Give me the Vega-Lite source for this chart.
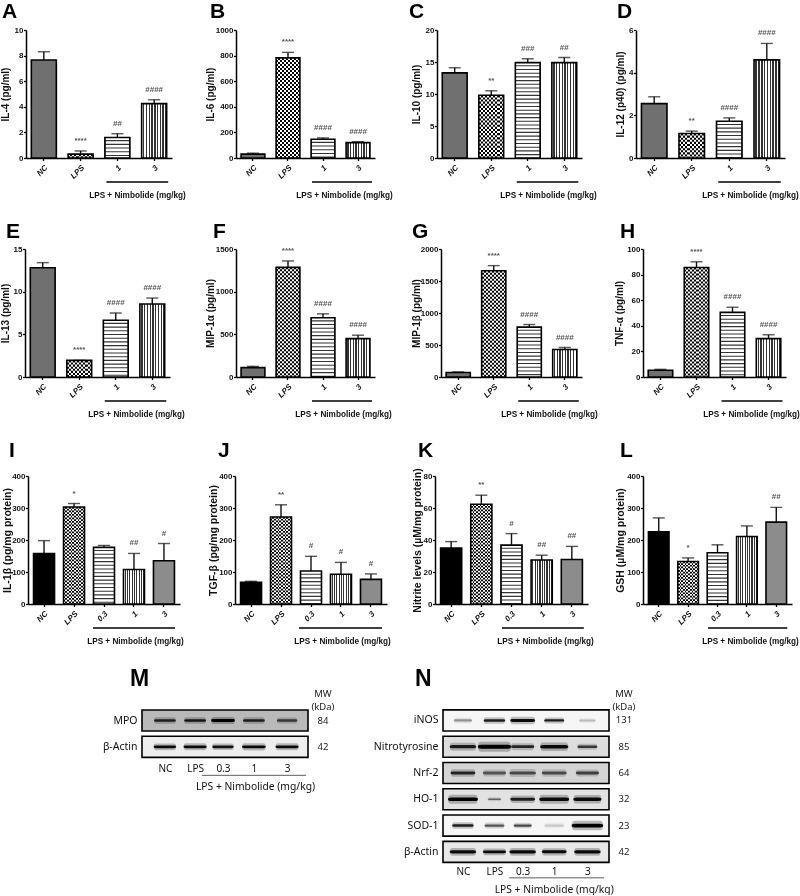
{"$schema":"https://vega.github.io/schema/vega-lite/v6.json","background":"white","padding":{"left":0,"top":1,"right":0,"bottom":0},"spacing":0,
"params":[
{"name":"vstripe","value":{"gradient":"linear","x1":0,"y1":0,"x2":1,"y2":0,"stops":[{"offset":0,"color":"#fff"},{"offset":0.0556,"color":"#fff"},{"offset":0.0556,"color":"#333"},{"offset":0.1111,"color":"#333"},{"offset":0.1111,"color":"#fff"},{"offset":0.1667,"color":"#fff"},{"offset":0.1667,"color":"#333"},{"offset":0.2222,"color":"#333"},{"offset":0.2222,"color":"#fff"},{"offset":0.2778,"color":"#fff"},{"offset":0.2778,"color":"#333"},{"offset":0.3333,"color":"#333"},{"offset":0.3333,"color":"#fff"},{"offset":0.3889,"color":"#fff"},{"offset":0.3889,"color":"#333"},{"offset":0.4444,"color":"#333"},{"offset":0.4444,"color":"#fff"},{"offset":0.5,"color":"#fff"},{"offset":0.5,"color":"#333"},{"offset":0.5556,"color":"#333"},{"offset":0.5556,"color":"#fff"},{"offset":0.6111,"color":"#fff"},{"offset":0.6111,"color":"#333"},{"offset":0.6667,"color":"#333"},{"offset":0.6667,"color":"#fff"},{"offset":0.7222,"color":"#fff"},{"offset":0.7222,"color":"#333"},{"offset":0.7778,"color":"#333"},{"offset":0.7778,"color":"#fff"},{"offset":0.8333,"color":"#fff"},{"offset":0.8333,"color":"#333"},{"offset":0.8889,"color":"#333"},{"offset":0.8889,"color":"#fff"},{"offset":0.9444,"color":"#fff"},{"offset":0.9444,"color":"#333"},{"offset":1,"color":"#333"}]}},
{"name":"vcheck","value":{"gradient":"linear","x1":0,"y1":0,"x2":1,"y2":0,"stops":[{"offset":0,"color":"#000"},{"offset":0.0833,"color":"#000"},{"offset":0.0833,"color":"#fff"},{"offset":0.1667,"color":"#fff"},{"offset":0.1667,"color":"#000"},{"offset":0.25,"color":"#000"},{"offset":0.25,"color":"#fff"},{"offset":0.3333,"color":"#fff"},{"offset":0.3333,"color":"#000"},{"offset":0.4167,"color":"#000"},{"offset":0.4167,"color":"#fff"},{"offset":0.5,"color":"#fff"},{"offset":0.5,"color":"#000"},{"offset":0.5833,"color":"#000"},{"offset":0.5833,"color":"#fff"},{"offset":0.6667,"color":"#fff"},{"offset":0.6667,"color":"#000"},{"offset":0.75,"color":"#000"},{"offset":0.75,"color":"#fff"},{"offset":0.8333,"color":"#fff"},{"offset":0.8333,"color":"#000"},{"offset":0.9167,"color":"#000"},{"offset":0.9167,"color":"#fff"},{"offset":1,"color":"#fff"}]}}
],
"config":{"view":{"stroke":null},"font":"Liberation Sans",
"title":{"font":"Liberation Sans","fontWeight":"bold","fontSize":21,"anchor":"start","frame":"group","color":"#000"},
"axis":{"grid":false,"labelFont":"Liberation Sans","labelFontWeight":"bold","labelFontSize":8,"labelColor":"#111","titleFont":"Liberation Sans","titleFontWeight":"bold","titleFontSize":10,"titleColor":"#111","domainColor":"#000","domainWidth":1.5,"tickColor":"#000","tickWidth":1.3,"tickSize":2.5,"labelPadding":0.5,"titleBaseline":"middle"},
"axisX":{"labelAngle":-45,"labelFontStyle":"italic","titleAlign":"center","titleFontSize":8.2,"labelPadding":3}
},
"datasets":{
"A":[{"group":"NC","value":7.66,"upper":8.3,"sig":""},{"group":"LPS","value":0.3,"upper":0.55,"sig":"****"},{"group":"1","value":1.6,"upper":1.9,"sig":"##"},{"group":"3","value":4.25,"upper":4.55,"sig":"####"}],
"B":[{"group":"NC","value":30,"upper":38,"sig":""},{"group":"LPS","value":782,"upper":825,"sig":"****"},{"group":"1","value":147,"upper":157,"sig":"####"},{"group":"3","value":120,"upper":127,"sig":"####"}],
"C":[{"group":"NC","value":13.3,"upper":14.1,"sig":""},{"group":"LPS","value":9.8,"upper":10.5,"sig":"**"},{"group":"1","value":14.9,"upper":15.5,"sig":"###"},{"group":"3","value":14.9,"upper":15.7,"sig":"##"}],
"D":[{"group":"NC","value":2.55,"upper":2.87,"sig":""},{"group":"LPS","value":1.15,"upper":1.26,"sig":"**"},{"group":"1","value":1.72,"upper":1.88,"sig":"####"},{"group":"3","value":4.6,"upper":5.37,"sig":"####"}],
"E":[{"group":"NC","value":12.8,"upper":13.4,"sig":""},{"group":"LPS","value":1.95,"upper":1.95,"sig":"****"},{"group":"1","value":6.65,"upper":7.5,"sig":"####"},{"group":"3","value":8.55,"upper":9.25,"sig":"####"}],
"F":[{"group":"NC","value":110,"upper":125,"sig":""},{"group":"LPS","value":1285,"upper":1360,"sig":"****"},{"group":"1","value":695,"upper":740,"sig":"####"},{"group":"3","value":450,"upper":490,"sig":"####"}],
"G":[{"group":"NC","value":70,"upper":80,"sig":""},{"group":"LPS","value":1660,"upper":1740,"sig":"****"},{"group":"1","value":780,"upper":820,"sig":"####"},{"group":"3","value":430,"upper":460,"sig":"####"}],
"H":[{"group":"NC","value":5.3,"upper":6,"sig":""},{"group":"LPS","value":85.5,"upper":90,"sig":"****"},{"group":"1","value":50.5,"upper":54.5,"sig":"####"},{"group":"3","value":30,"upper":33,"sig":"####"}],
"I":[{"group":"NC","value":158,"upper":198,"sig":""},{"group":"LPS","value":303,"upper":314,"sig":"*"},{"group":"0.3","value":177,"upper":183,"sig":""},{"group":"1","value":108,"upper":158,"sig":"##"},{"group":"3","value":135,"upper":189,"sig":"#"}],
"J":[{"group":"NC","value":68,"upper":71,"sig":""},{"group":"LPS","value":272,"upper":310,"sig":"**"},{"group":"0.3","value":103,"upper":149,"sig":"#"},{"group":"1","value":93,"upper":130,"sig":"#"},{"group":"3","value":77,"upper":94,"sig":"#"}],
"K":[{"group":"NC","value":35,"upper":39,"sig":""},{"group":"LPS","value":62.3,"upper":68,"sig":"**"},{"group":"0.3","value":36.8,"upper":44,"sig":"#"},{"group":"1","value":27.5,"upper":30.5,"sig":"##"},{"group":"3","value":27.8,"upper":36,"sig":"##"}],
"L":[{"group":"NC","value":226,"upper":269,"sig":""},{"group":"LPS","value":133,"upper":144,"sig":"*"},{"group":"0.3","value":160,"upper":185,"sig":""},{"group":"1","value":211,"upper":244,"sig":""},{"group":"3","value":256,"upper":302,"sig":"##"}],
"Mrows":[{"blot":"head","mw":["MW","(kDa)"],"bg":0},{"blot":"MPO","mw":"84","bg":0.25},{"blot":"β-Actin","mw":"42","bg":0.06}],
"Mbands":[{"blot":"MPO","lane":1.19,"level":0.8,"spread":0.66},{"blot":"MPO","lane":2.1,"level":0.85,"spread":0.66},{"blot":"MPO","lane":2.94,"level":1,"spread":0.72},{"blot":"MPO","lane":3.87,"level":0.8,"spread":0.66},{"blot":"MPO","lane":4.87,"level":0.65,"spread":0.62},{"blot":"β-Actin","lane":1.19,"level":0.95,"spread":0.68},{"blot":"β-Actin","lane":2.1,"level":0.95,"spread":0.7},{"blot":"β-Actin","lane":2.94,"level":0.9,"spread":0.65},{"blot":"β-Actin","lane":3.87,"level":0.95,"spread":0.72},{"blot":"β-Actin","lane":4.87,"level":0.95,"spread":0.7}],
"Nrows":[{"blot":"head","mw":["MW","(kDa)"],"bg":0},{"blot":"iNOS","mw":"131","bg":0.03},{"blot":"Nitrotyrosine","mw":"85","bg":0.12},{"blot":"Nrf-2","mw":"64","bg":0.15},{"blot":"HO-1","mw":"32","bg":0.1},{"blot":"SOD-1","mw":"23","bg":0.03},{"blot":"β-Actin","mw":"42","bg":0.08}],
"Nbands":[{"blot":"iNOS","lane":1.1,"level":0.35,"spread":0.55},{"blot":"iNOS","lane":2.05,"level":0.85,"spread":0.65},{"blot":"iNOS","lane":2.9,"level":0.95,"spread":0.75},{"blot":"iNOS","lane":3.85,"level":0.85,"spread":0.6},{"blot":"iNOS","lane":4.85,"level":0.2,"spread":0.5},
{"blot":"Nitrotyrosine","lane":1.1,"level":0.85,"spread":0.8},{"blot":"Nitrotyrosine","lane":2.05,"level":1,"spread":1},{"blot":"Nitrotyrosine","lane":2.9,"level":0.8,"spread":0.7},{"blot":"Nitrotyrosine","lane":3.85,"level":0.95,"spread":0.85},{"blot":"Nitrotyrosine","lane":4.85,"level":0.7,"spread":0.6},
{"blot":"Nrf-2","lane":1.1,"level":0.8,"spread":0.75},{"blot":"Nrf-2","lane":2.05,"level":0.55,"spread":0.7},{"blot":"Nrf-2","lane":2.9,"level":0.6,"spread":0.8},{"blot":"Nrf-2","lane":3.85,"level":0.6,"spread":0.75},{"blot":"Nrf-2","lane":4.85,"level":0.65,"spread":0.7},
{"blot":"HO-1","lane":1.1,"level":1,"spread":0.9},{"blot":"HO-1","lane":2.05,"level":0.5,"spread":0.4},{"blot":"HO-1","lane":2.9,"level":0.85,"spread":0.75},{"blot":"HO-1","lane":3.85,"level":0.95,"spread":0.9},{"blot":"HO-1","lane":4.85,"level":0.95,"spread":0.85},
{"blot":"SOD-1","lane":1.1,"level":0.85,"spread":0.65},{"blot":"SOD-1","lane":2.05,"level":0.6,"spread":0.6},{"blot":"SOD-1","lane":2.9,"level":0.65,"spread":0.55},{"blot":"SOD-1","lane":3.85,"level":0.15,"spread":0.6},{"blot":"SOD-1","lane":4.85,"level":1,"spread":0.95},
{"blot":"β-Actin","lane":1.1,"level":0.95,"spread":0.8},{"blot":"β-Actin","lane":2.05,"level":0.95,"spread":0.7},{"blot":"β-Actin","lane":2.9,"level":0.95,"spread":0.8},{"blot":"β-Actin","lane":3.85,"level":0.95,"spread":0.75},{"blot":"β-Actin","lane":4.85,"level":0.95,"spread":0.8}]
},
"vconcat":[
{"hconcat":[
{"width":159,"height":128,"title":{"text":"A","dx":-25,"offset":4},"data":{"name":"A"},"encoding":{"x":{"field":"group","type":"nominal","sort":null,"scale":{"domain":["NC","LPS","1","3"],"range":[-1,145],"paddingInner":0.32,"paddingOuter":0.145},"axis":{"title":"LPS + Nimbolide (mg/kg)","titleX":110,"titleY":37,"minExtent":63,"maxExtent":63}},"y":{"field":"value","type":"quantitative","scale":{"domain":[0,10]},"axis":{"values":[0,2,4,6,8,10],"title":"IL-4 (pg/ml)","titleX":-21,"offset":1,"minExtent":23,"maxExtent":23}}},
"layer":[
{"mark":{"type":"rule","strokeWidth":1.4,"color":"#111"},"encoding":{"y":{"field":"upper","type":"quantitative"},"y2":{"field":"value"}}},
{"mark":{"type":"tick","size":12,"thickness":1.4,"color":"#111"},"encoding":{"y":{"field":"upper","type":"quantitative"}}},
{"mark":{"type":"bar"},"encoding":{"color":{"field":"group","type":"nominal","scale":{"domain":["NC","LPS","1","3"],"range":["#707070","#ffffff","#333333","#ffffff"]},"legend":null}}},
{"transform":[{"filter":"datum.group=='3'"}],"mark":{"type":"bar","fill":{"expr":"vstripe"}}},
{"transform":[{"filter":"datum.group=='LPS'"}],"mark":{"type":"bar","fill":{"expr":"vcheck"}}},
{"transform":[{"filter":"datum.group=='LPS'"}],"mark":{"type":"rule","color":"#fff","strokeWidth":25,"strokeDash":[2.1,2.1],"blend":"difference"},"encoding":{"y2":{"datum":0}}},
{"transform":[{"filter":"datum.group=='1'"}],"mark":{"type":"rule","color":"#fff","strokeWidth":24,"strokeDash":[2.6,1.1]},"encoding":{"y2":{"datum":0}}},
{"mark":{"type":"bar","fill":null,"stroke":"#000","strokeWidth":1.6}},
{"mark":{"type":"text","dy":-10,"fontSize":8,"fontWeight":"bold","color":"#555"},"encoding":{"y":{"field":"upper","type":"quantitative"},"text":{"field":"sig"}}},
{"transform":[{"filter":"datum.group=='1'"}],"mark":{"type":"rule","strokeWidth":1.6,"color":"#000","yOffset":24,"xOffset":-11,"x2Offset":14},"encoding":{"x":{"datum":"1"},"x2":{"datum":"3"},"y":{"datum":0}}}
]},
{"width":151,"height":128,"title":{"text":"B","dx":-26,"offset":4},"data":{"name":"B"},"encoding":{"x":{"field":"group","type":"nominal","sort":null,"scale":{"domain":["NC","LPS","1","3"],"range":[0,139],"paddingInner":0.32,"paddingOuter":0.145},"axis":{"title":"LPS + Nimbolide (mg/kg)","titleX":108,"titleY":37}},"y":{"field":"value","type":"quantitative","scale":{"domain":[0,1000]},"axis":{"values":[0,200,400,600,800,1000],"format":"d","title":"IL-6 (pg/ml)","titleX":-26}}},
"layer":[
{"mark":{"type":"rule","strokeWidth":1.4,"color":"#111"},"encoding":{"y":{"field":"upper","type":"quantitative"},"y2":{"field":"value"}}},
{"mark":{"type":"tick","size":12,"thickness":1.4,"color":"#111"},"encoding":{"y":{"field":"upper","type":"quantitative"}}},
{"mark":{"type":"bar"},"encoding":{"color":{"field":"group","type":"nominal","scale":{"domain":["NC","LPS","1","3"],"range":["#707070","#ffffff","#333333","#ffffff"]},"legend":null}}},
{"transform":[{"filter":"datum.group=='3'"}],"mark":{"type":"bar","fill":{"expr":"vstripe"}}},
{"transform":[{"filter":"datum.group=='LPS'"}],"mark":{"type":"bar","fill":{"expr":"vcheck"}}},
{"transform":[{"filter":"datum.group=='LPS'"}],"mark":{"type":"rule","color":"#fff","strokeWidth":23.8,"strokeDash":[2,2],"blend":"difference"},"encoding":{"y2":{"datum":0}}},
{"transform":[{"filter":"datum.group=='1'"}],"mark":{"type":"rule","color":"#fff","strokeWidth":23,"strokeDash":[2.6,1.1]},"encoding":{"y2":{"datum":0}}},
{"mark":{"type":"bar","fill":null,"stroke":"#000","strokeWidth":1.6}},
{"mark":{"type":"text","dy":-10,"fontSize":8,"fontWeight":"bold","color":"#555"},"encoding":{"y":{"field":"upper","type":"quantitative"},"text":{"field":"sig"}}},
{"transform":[{"filter":"datum.group=='1'"}],"mark":{"type":"rule","strokeWidth":1.6,"color":"#000","yOffset":24,"xOffset":-11,"x2Offset":14},"encoding":{"x":{"datum":"1"},"x2":{"datum":"3"},"y":{"datum":0}}}
]},
{"width":149,"height":128,"title":{"text":"C","dx":-28,"offset":4},"data":{"name":"C"},"encoding":{"x":{"field":"group","type":"nominal","sort":null,"scale":{"domain":["NC","LPS","1","3"],"range":[0,145],"paddingInner":0.32,"paddingOuter":0.145},"axis":{"title":"LPS + Nimbolide (mg/kg)","titleX":111,"titleY":37}},"y":{"field":"value","type":"quantitative","scale":{"domain":[0,20]},"axis":{"values":[0,5,10,15,20],"title":"IL-10 (pg/ml)","titleX":-21}}},
"layer":[
{"mark":{"type":"rule","strokeWidth":1.4,"color":"#111"},"encoding":{"y":{"field":"upper","type":"quantitative"},"y2":{"field":"value"}}},
{"mark":{"type":"tick","size":12,"thickness":1.4,"color":"#111"},"encoding":{"y":{"field":"upper","type":"quantitative"}}},
{"mark":{"type":"bar"},"encoding":{"color":{"field":"group","type":"nominal","scale":{"domain":["NC","LPS","1","3"],"range":["#707070","#ffffff","#333333","#ffffff"]},"legend":null}}},
{"transform":[{"filter":"datum.group=='3'"}],"mark":{"type":"bar","fill":{"expr":"vstripe"}}},
{"transform":[{"filter":"datum.group=='LPS'"}],"mark":{"type":"bar","fill":{"expr":"vcheck"}}},
{"transform":[{"filter":"datum.group=='LPS'"}],"mark":{"type":"rule","color":"#fff","strokeWidth":24.8,"strokeDash":[2.1,2.1],"blend":"difference"},"encoding":{"y2":{"datum":0}}},
{"transform":[{"filter":"datum.group=='1'"}],"mark":{"type":"rule","color":"#fff","strokeWidth":24,"strokeDash":[2.6,1.1]},"encoding":{"y2":{"datum":0}}},
{"mark":{"type":"bar","fill":null,"stroke":"#000","strokeWidth":1.6}},
{"mark":{"type":"text","dy":-10,"fontSize":8,"fontWeight":"bold","color":"#555"},"encoding":{"y":{"field":"upper","type":"quantitative"},"text":{"field":"sig"}}},
{"transform":[{"filter":"datum.group=='1'"}],"mark":{"type":"rule","strokeWidth":1.6,"color":"#000","yOffset":24,"xOffset":-11,"x2Offset":14},"encoding":{"x":{"datum":"1"},"x2":{"datum":"3"},"y":{"datum":0}}}
]},
{"width":149,"height":128,"title":{"text":"D","dx":-19,"offset":4},"data":{"name":"D"},"encoding":{"x":{"field":"group","type":"nominal","sort":null,"scale":{"domain":["NC","LPS","1","3"],"range":[0,149],"paddingInner":0.32,"paddingOuter":0.145},"axis":{"title":"LPS + Nimbolide (mg/kg)","titleX":114,"titleY":37}},"y":{"field":"value","type":"quantitative","scale":{"domain":[0,6]},"axis":{"values":[0,2,4,6],"title":"IL-12 (p40) (pg/ml)","titleX":-16}}},
"layer":[
{"mark":{"type":"rule","strokeWidth":1.4,"color":"#111"},"encoding":{"y":{"field":"upper","type":"quantitative"},"y2":{"field":"value"}}},
{"mark":{"type":"tick","size":12,"thickness":1.4,"color":"#111"},"encoding":{"y":{"field":"upper","type":"quantitative"}}},
{"mark":{"type":"bar"},"encoding":{"color":{"field":"group","type":"nominal","scale":{"domain":["NC","LPS","1","3"],"range":["#707070","#ffffff","#333333","#ffffff"]},"legend":null}}},
{"transform":[{"filter":"datum.group=='3'"}],"mark":{"type":"bar","fill":{"expr":"vstripe"}}},
{"transform":[{"filter":"datum.group=='LPS'"}],"mark":{"type":"bar","fill":{"expr":"vcheck"}}},
{"transform":[{"filter":"datum.group=='LPS'"}],"mark":{"type":"rule","color":"#fff","strokeWidth":25.5,"strokeDash":[2.1,2.1],"blend":"difference"},"encoding":{"y2":{"datum":0}}},
{"transform":[{"filter":"datum.group=='1'"}],"mark":{"type":"rule","color":"#fff","strokeWidth":24.5,"strokeDash":[2.6,1.1]},"encoding":{"y2":{"datum":0}}},
{"mark":{"type":"bar","fill":null,"stroke":"#000","strokeWidth":1.6}},
{"mark":{"type":"text","dy":-10,"fontSize":8,"fontWeight":"bold","color":"#555"},"encoding":{"y":{"field":"upper","type":"quantitative"},"text":{"field":"sig"}}},
{"transform":[{"filter":"datum.group=='1'"}],"mark":{"type":"rule","strokeWidth":1.6,"color":"#000","yOffset":24,"xOffset":-11,"x2Offset":14},"encoding":{"x":{"datum":"1"},"x2":{"datum":"3"},"y":{"datum":0}}}
]}
],"spacing":50,"bounds":"flush"},
{"hconcat":[
{"width":159,"height":128,"title":{"text":"E","dx":-21,"offset":3},"data":{"name":"E"},"encoding":{"x":{"field":"group","type":"nominal","sort":null,"scale":{"domain":["NC","LPS","1","3"],"range":[-2,143],"paddingInner":0.32,"paddingOuter":0.145},"axis":{"title":"LPS + Nimbolide (mg/kg)","titleX":109,"titleY":37,"minExtent":63,"maxExtent":63}},"y":{"field":"value","type":"quantitative","scale":{"domain":[0,15]},"axis":{"values":[0,5,10,15],"title":"IL-13 (pg/ml)","titleX":-20,"offset":2,"minExtent":21,"maxExtent":21}}},
"layer":[
{"mark":{"type":"rule","strokeWidth":1.4,"color":"#111"},"encoding":{"y":{"field":"upper","type":"quantitative"},"y2":{"field":"value"}}},
{"mark":{"type":"tick","size":12,"thickness":1.4,"color":"#111"},"encoding":{"y":{"field":"upper","type":"quantitative"}}},
{"mark":{"type":"bar"},"encoding":{"color":{"field":"group","type":"nominal","scale":{"domain":["NC","LPS","1","3"],"range":["#707070","#ffffff","#333333","#ffffff"]},"legend":null}}},
{"transform":[{"filter":"datum.group=='3'"}],"mark":{"type":"bar","fill":{"expr":"vstripe"}}},
{"transform":[{"filter":"datum.group=='LPS'"}],"mark":{"type":"bar","fill":{"expr":"vcheck"}}},
{"transform":[{"filter":"datum.group=='LPS'"}],"mark":{"type":"rule","color":"#fff","strokeWidth":24.8,"strokeDash":[2.1,2.1],"blend":"difference"},"encoding":{"y2":{"datum":0}}},
{"transform":[{"filter":"datum.group=='1'"}],"mark":{"type":"rule","color":"#fff","strokeWidth":24,"strokeDash":[2.6,1.1]},"encoding":{"y2":{"datum":0}}},
{"mark":{"type":"bar","fill":null,"stroke":"#000","strokeWidth":1.6}},
{"mark":{"type":"text","dy":-10,"fontSize":8,"fontWeight":"bold","color":"#555"},"encoding":{"y":{"field":"upper","type":"quantitative"},"text":{"field":"sig"}}},
{"transform":[{"filter":"datum.group=='1'"}],"mark":{"type":"rule","strokeWidth":1.6,"color":"#000","yOffset":24,"xOffset":-11,"x2Offset":14},"encoding":{"x":{"datum":"1"},"x2":{"datum":"3"},"y":{"datum":0}}}
]},
{"width":155,"height":128,"title":{"text":"F","dx":-23,"offset":3},"data":{"name":"F"},"encoding":{"x":{"field":"group","type":"nominal","sort":null,"scale":{"domain":["NC","LPS","1","3"],"range":[0,139],"paddingInner":0.32,"paddingOuter":0.145},"axis":{"title":"LPS + Nimbolide (mg/kg)","titleX":107,"titleY":37}},"y":{"field":"value","type":"quantitative","scale":{"domain":[0,1500]},"axis":{"values":[0,500,1000,1500],"format":"d","title":"MIP-1α (pg/ml)","titleX":-26}}},
"layer":[
{"mark":{"type":"rule","strokeWidth":1.4,"color":"#111"},"encoding":{"y":{"field":"upper","type":"quantitative"},"y2":{"field":"value"}}},
{"mark":{"type":"tick","size":12,"thickness":1.4,"color":"#111"},"encoding":{"y":{"field":"upper","type":"quantitative"}}},
{"mark":{"type":"bar"},"encoding":{"color":{"field":"group","type":"nominal","scale":{"domain":["NC","LPS","1","3"],"range":["#707070","#ffffff","#333333","#ffffff"]},"legend":null}}},
{"transform":[{"filter":"datum.group=='3'"}],"mark":{"type":"bar","fill":{"expr":"vstripe"}}},
{"transform":[{"filter":"datum.group=='LPS'"}],"mark":{"type":"bar","fill":{"expr":"vcheck"}}},
{"transform":[{"filter":"datum.group=='LPS'"}],"mark":{"type":"rule","color":"#fff","strokeWidth":23.8,"strokeDash":[2,2],"blend":"difference"},"encoding":{"y2":{"datum":0}}},
{"transform":[{"filter":"datum.group=='1'"}],"mark":{"type":"rule","color":"#fff","strokeWidth":23,"strokeDash":[2.6,1.1]},"encoding":{"y2":{"datum":0}}},
{"mark":{"type":"bar","fill":null,"stroke":"#000","strokeWidth":1.6}},
{"mark":{"type":"text","dy":-10,"fontSize":8,"fontWeight":"bold","color":"#555"},"encoding":{"y":{"field":"upper","type":"quantitative"},"text":{"field":"sig"}}},
{"transform":[{"filter":"datum.group=='1'"}],"mark":{"type":"rule","strokeWidth":1.6,"color":"#000","yOffset":24,"xOffset":-11,"x2Offset":14},"encoding":{"x":{"datum":"1"},"x2":{"datum":"3"},"y":{"datum":0}}}
]},
{"width":152,"height":128,"title":{"text":"G","dx":-29,"offset":3},"data":{"name":"G"},"encoding":{"x":{"field":"group","type":"nominal","sort":null,"scale":{"domain":["NC","LPS","1","3"],"range":[0,141],"paddingInner":0.32,"paddingOuter":0.145},"axis":{"title":"LPS + Nimbolide (mg/kg)","titleX":108,"titleY":37}},"y":{"field":"value","type":"quantitative","scale":{"domain":[0,2000]},"axis":{"values":[0,500,1000,1500,2000],"format":"d","title":"MIP-1β (pg/ml)","titleX":-25}}},
"layer":[
{"mark":{"type":"rule","strokeWidth":1.4,"color":"#111"},"encoding":{"y":{"field":"upper","type":"quantitative"},"y2":{"field":"value"}}},
{"mark":{"type":"tick","size":12,"thickness":1.4,"color":"#111"},"encoding":{"y":{"field":"upper","type":"quantitative"}}},
{"mark":{"type":"bar"},"encoding":{"color":{"field":"group","type":"nominal","scale":{"domain":["NC","LPS","1","3"],"range":["#707070","#ffffff","#333333","#ffffff"]},"legend":null}}},
{"transform":[{"filter":"datum.group=='3'"}],"mark":{"type":"bar","fill":{"expr":"vstripe"}}},
{"transform":[{"filter":"datum.group=='LPS'"}],"mark":{"type":"bar","fill":{"expr":"vcheck"}}},
{"transform":[{"filter":"datum.group=='LPS'"}],"mark":{"type":"rule","color":"#fff","strokeWidth":24.2,"strokeDash":[2,2],"blend":"difference"},"encoding":{"y2":{"datum":0}}},
{"transform":[{"filter":"datum.group=='1'"}],"mark":{"type":"rule","color":"#fff","strokeWidth":23.4,"strokeDash":[2.6,1.1]},"encoding":{"y2":{"datum":0}}},
{"mark":{"type":"bar","fill":null,"stroke":"#000","strokeWidth":1.6}},
{"mark":{"type":"text","dy":-10,"fontSize":8,"fontWeight":"bold","color":"#555"},"encoding":{"y":{"field":"upper","type":"quantitative"},"text":{"field":"sig"}}},
{"transform":[{"filter":"datum.group=='1'"}],"mark":{"type":"rule","strokeWidth":1.6,"color":"#000","yOffset":24,"xOffset":-11,"x2Offset":14},"encoding":{"x":{"datum":"1"},"x2":{"datum":"3"},"y":{"datum":0}}}
]},
{"width":150,"height":128,"title":{"text":"H","dx":-23,"offset":3},"data":{"name":"H"},"encoding":{"x":{"field":"group","type":"nominal","sort":null,"scale":{"domain":["NC","LPS","1","3"],"range":[0,143],"paddingInner":0.32,"paddingOuter":0.145},"axis":{"title":"LPS + Nimbolide (mg/kg)","titleX":108,"titleY":37}},"y":{"field":"value","type":"quantitative","scale":{"domain":[0,100]},"axis":{"values":[0,20,40,60,80,100],"title":"TNF-α (pg/ml)","titleX":-24}}},
"layer":[
{"mark":{"type":"rule","strokeWidth":1.4,"color":"#111"},"encoding":{"y":{"field":"upper","type":"quantitative"},"y2":{"field":"value"}}},
{"mark":{"type":"tick","size":12,"thickness":1.4,"color":"#111"},"encoding":{"y":{"field":"upper","type":"quantitative"}}},
{"mark":{"type":"bar"},"encoding":{"color":{"field":"group","type":"nominal","scale":{"domain":["NC","LPS","1","3"],"range":["#707070","#ffffff","#333333","#ffffff"]},"legend":null}}},
{"transform":[{"filter":"datum.group=='3'"}],"mark":{"type":"bar","fill":{"expr":"vstripe"}}},
{"transform":[{"filter":"datum.group=='LPS'"}],"mark":{"type":"bar","fill":{"expr":"vcheck"}}},
{"transform":[{"filter":"datum.group=='LPS'"}],"mark":{"type":"rule","color":"#fff","strokeWidth":24.5,"strokeDash":[2,2],"blend":"difference"},"encoding":{"y2":{"datum":0}}},
{"transform":[{"filter":"datum.group=='1'"}],"mark":{"type":"rule","color":"#fff","strokeWidth":23.6,"strokeDash":[2.6,1.1]},"encoding":{"y2":{"datum":0}}},
{"mark":{"type":"bar","fill":null,"stroke":"#000","strokeWidth":1.6}},
{"mark":{"type":"text","dy":-10,"fontSize":8,"fontWeight":"bold","color":"#555"},"encoding":{"y":{"field":"upper","type":"quantitative"},"text":{"field":"sig"}}},
{"transform":[{"filter":"datum.group=='1'"}],"mark":{"type":"rule","strokeWidth":1.6,"color":"#000","yOffset":24,"xOffset":-11,"x2Offset":14},"encoding":{"x":{"datum":"1"},"x2":{"datum":"3"},"y":{"datum":0}}}
]}
],"spacing":50,"bounds":"flush"},
{"hconcat":[
{"width":158,"height":128,"title":{"text":"I","dx":-18,"offset":11},"data":{"name":"I"},"encoding":{"x":{"field":"group","type":"nominal","sort":null,"scale":{"domain":["NC","LPS","0.3","1","3"],"range":[1,153],"paddingInner":0.3,"paddingOuter":0.185},"axis":{"title":"LPS + Nimbolide (mg/kg)","titleX":108,"titleY":37,"minExtent":63,"maxExtent":63}},"y":{"field":"value","type":"quantitative","scale":{"domain":[0,400]},"axis":{"values":[0,100,200,300,400],"title":"IL-1β (pg/mg protein)","titleFontSize":10.5,"titleX":-21,"offset":-1,"minExtent":26,"maxExtent":26}}},
"layer":[
{"mark":{"type":"rule","strokeWidth":1.4,"color":"#111"},"encoding":{"y":{"field":"upper","type":"quantitative"},"y2":{"field":"value"}}},
{"mark":{"type":"tick","size":12,"thickness":1.4,"color":"#111"},"encoding":{"y":{"field":"upper","type":"quantitative"}}},
{"mark":{"type":"bar"},"encoding":{"color":{"field":"group","type":"nominal","scale":{"domain":["NC","LPS","0.3","1","3"],"range":["#000000","#ffffff","#333333","#ffffff","#8c8c8c"]},"legend":null}}},
{"transform":[{"filter":"datum.group=='1'"}],"mark":{"type":"bar","fill":{"expr":"vstripe"}}},
{"transform":[{"filter":"datum.group=='LPS'"}],"mark":{"type":"bar","fill":{"expr":"vcheck"}}},
{"transform":[{"filter":"datum.group=='LPS'"}],"mark":{"type":"rule","color":"#fff","strokeWidth":21,"strokeDash":[1.75,1.75],"blend":"difference"},"encoding":{"y2":{"datum":0}}},
{"transform":[{"filter":"datum.group=='0.3'"}],"mark":{"type":"rule","color":"#fff","strokeWidth":20,"strokeDash":[2.6,1.1]},"encoding":{"y2":{"datum":0}}},
{"mark":{"type":"bar","fill":null,"stroke":"#000","strokeWidth":1.6}},
{"mark":{"type":"text","dy":-10,"fontSize":8,"fontWeight":"bold","color":"#555"},"encoding":{"y":{"field":"upper","type":"quantitative"},"text":{"field":"sig"}}},
{"transform":[{"filter":"datum.group=='1'"}],"mark":{"type":"rule","strokeWidth":1.6,"color":"#000","yOffset":24,"xOffset":-11,"x2Offset":11},"encoding":{"x":{"datum":"0.3"},"x2":{"datum":"3"},"y":{"datum":0}}}
]},
{"width":150,"height":128,"title":{"text":"J","dx":-17,"offset":11},"data":{"name":"J"},"encoding":{"x":{"field":"group","type":"nominal","sort":null,"scale":{"domain":["NC","LPS","0.3","1","3"],"range":[0,152],"paddingInner":0.3,"paddingOuter":0.185},"axis":{"title":"LPS + Nimbolide (mg/kg)","titleX":107,"titleY":37}},"y":{"field":"value","type":"quantitative","scale":{"domain":[0,400]},"axis":{"values":[0,100,200,300,400],"title":"TGF-β (pg/mg protein)","titleFontSize":10.5,"titleX":-22}}},
"layer":[
{"mark":{"type":"rule","strokeWidth":1.4,"color":"#111"},"encoding":{"y":{"field":"upper","type":"quantitative"},"y2":{"field":"value"}}},
{"mark":{"type":"tick","size":12,"thickness":1.4,"color":"#111"},"encoding":{"y":{"field":"upper","type":"quantitative"}}},
{"mark":{"type":"bar"},"encoding":{"color":{"field":"group","type":"nominal","scale":{"domain":["NC","LPS","0.3","1","3"],"range":["#000000","#ffffff","#333333","#ffffff","#8c8c8c"]},"legend":null}}},
{"transform":[{"filter":"datum.group=='1'"}],"mark":{"type":"bar","fill":{"expr":"vstripe"}}},
{"transform":[{"filter":"datum.group=='LPS'"}],"mark":{"type":"bar","fill":{"expr":"vcheck"}}},
{"transform":[{"filter":"datum.group=='LPS'"}],"mark":{"type":"rule","color":"#fff","strokeWidth":21,"strokeDash":[1.75,1.75],"blend":"difference"},"encoding":{"y2":{"datum":0}}},
{"transform":[{"filter":"datum.group=='0.3'"}],"mark":{"type":"rule","color":"#fff","strokeWidth":20,"strokeDash":[2.6,1.1]},"encoding":{"y2":{"datum":0}}},
{"mark":{"type":"bar","fill":null,"stroke":"#000","strokeWidth":1.6}},
{"mark":{"type":"text","dy":-10,"fontSize":8,"fontWeight":"bold","color":"#555"},"encoding":{"y":{"field":"upper","type":"quantitative"},"text":{"field":"sig"}}},
{"transform":[{"filter":"datum.group=='1'"}],"mark":{"type":"rule","strokeWidth":1.6,"color":"#000","yOffset":24,"xOffset":-12,"x2Offset":11},"encoding":{"x":{"datum":"0.3"},"x2":{"datum":"3"},"y":{"datum":0}}}
]},
{"width":158,"height":128,"title":{"text":"K","dx":-17,"offset":6.5},"data":{"name":"K"},"encoding":{"x":{"field":"group","type":"nominal","sort":null,"scale":{"domain":["NC","LPS","0.3","1","3"],"range":[0,153],"paddingInner":0.3,"paddingOuter":0.185},"axis":{"title":"LPS + Nimbolide (mg/kg)","titleX":110,"titleY":37}},"y":{"field":"value","type":"quantitative","scale":{"domain":[0,80]},"axis":{"values":[0,20,40,60,80],"title":"Nitrite levels (µM/mg protein)","titleFontSize":10.5,"titleX":-18}}},
"layer":[
{"mark":{"type":"rule","strokeWidth":1.4,"color":"#111"},"encoding":{"y":{"field":"upper","type":"quantitative"},"y2":{"field":"value"}}},
{"mark":{"type":"tick","size":12,"thickness":1.4,"color":"#111"},"encoding":{"y":{"field":"upper","type":"quantitative"}}},
{"mark":{"type":"bar"},"encoding":{"color":{"field":"group","type":"nominal","scale":{"domain":["NC","LPS","0.3","1","3"],"range":["#000000","#ffffff","#333333","#ffffff","#8c8c8c"]},"legend":null}}},
{"transform":[{"filter":"datum.group=='1'"}],"mark":{"type":"bar","fill":{"expr":"vstripe"}}},
{"transform":[{"filter":"datum.group=='LPS'"}],"mark":{"type":"bar","fill":{"expr":"vcheck"}}},
{"transform":[{"filter":"datum.group=='LPS'"}],"mark":{"type":"rule","color":"#fff","strokeWidth":21,"strokeDash":[1.75,1.75],"blend":"difference"},"encoding":{"y2":{"datum":0}}},
{"transform":[{"filter":"datum.group=='0.3'"}],"mark":{"type":"rule","color":"#fff","strokeWidth":20,"strokeDash":[2.6,1.1]},"encoding":{"y2":{"datum":0}}},
{"mark":{"type":"bar","fill":null,"stroke":"#000","strokeWidth":1.6}},
{"mark":{"type":"text","dy":-10,"fontSize":8,"fontWeight":"bold","color":"#555"},"encoding":{"y":{"field":"upper","type":"quantitative"},"text":{"field":"sig"}}},
{"transform":[{"filter":"datum.group=='1'"}],"mark":{"type":"rule","strokeWidth":1.6,"color":"#000","yOffset":24,"xOffset":-9.5,"x2Offset":12},"encoding":{"x":{"datum":"0.3"},"x2":{"datum":"3"},"y":{"datum":0}}}
]},
{"width":150,"height":128,"title":{"text":"L","dx":-23,"offset":11},"data":{"name":"L"},"encoding":{"x":{"field":"group","type":"nominal","sort":null,"scale":{"domain":["NC","LPS","0.3","1","3"],"range":[0,149],"paddingInner":0.3,"paddingOuter":0.185},"axis":{"title":"LPS + Nimbolide (mg/kg)","titleX":107,"titleY":37}},"y":{"field":"value","type":"quantitative","scale":{"domain":[0,400]},"axis":{"values":[0,100,200,300,400],"title":"GSH (µM/mg protein)","titleFontSize":10.5,"titleX":-23}}},
"layer":[
{"mark":{"type":"rule","strokeWidth":1.4,"color":"#111"},"encoding":{"y":{"field":"upper","type":"quantitative"},"y2":{"field":"value"}}},
{"mark":{"type":"tick","size":12,"thickness":1.4,"color":"#111"},"encoding":{"y":{"field":"upper","type":"quantitative"}}},
{"mark":{"type":"bar"},"encoding":{"color":{"field":"group","type":"nominal","scale":{"domain":["NC","LPS","0.3","1","3"],"range":["#000000","#ffffff","#333333","#ffffff","#8c8c8c"]},"legend":null}}},
{"transform":[{"filter":"datum.group=='1'"}],"mark":{"type":"bar","fill":{"expr":"vstripe"}}},
{"transform":[{"filter":"datum.group=='LPS'"}],"mark":{"type":"bar","fill":{"expr":"vcheck"}}},
{"transform":[{"filter":"datum.group=='LPS'"}],"mark":{"type":"rule","color":"#fff","strokeWidth":20.6,"strokeDash":[1.72,1.72],"blend":"difference"},"encoding":{"y2":{"datum":0}}},
{"transform":[{"filter":"datum.group=='0.3'"}],"mark":{"type":"rule","color":"#fff","strokeWidth":19.6,"strokeDash":[2.6,1.1]},"encoding":{"y2":{"datum":0}}},
{"mark":{"type":"bar","fill":null,"stroke":"#000","strokeWidth":1.6}},
{"mark":{"type":"text","dy":-10,"fontSize":8,"fontWeight":"bold","color":"#555"},"encoding":{"y":{"field":"upper","type":"quantitative"},"text":{"field":"sig"}}},
{"transform":[{"filter":"datum.group=='1'"}],"mark":{"type":"rule","strokeWidth":1.6,"color":"#000","yOffset":24,"xOffset":-9.5,"x2Offset":11},"encoding":{"x":{"datum":"0.3"},"x2":{"datum":"3"},"y":{"datum":0}}}
]}
],"spacing":50,"bounds":"flush"},
{"hconcat":[
{"width":281,"height":79,"title":{"text":"M","dx":103,"offset":-9.5,"fontSize":23},
"resolve":{"scale":{"opacity":"independent"}},
"layer":[
{"data":{"name":"Mrows"},"transform":[{"filter":"datum.blot!='head'"}],"mark":{"type":"rect","stroke":"#000","strokeWidth":1.6},"encoding":{"x":{"datum":0.5,"type":"quantitative","scale":{"domain":[0.5,5.5],"range":[115,281]},"axis":{"values":[1.19,2.1,2.94,3.87,4.87],"labelExpr":"datum.value<1.5?'NC':datum.value<2.5?'LPS':datum.value<3.5?'0.3':datum.value<4.5?'1':'3'","domain":false,"ticks":false,"labelAngle":0,"labelFont":"Noto Sans","labelFontWeight":"normal","labelFontStyle":"normal","labelFontSize":10,"labelPadding":3,"title":"LPS + Nimbolide (mg/kg)","titleFont":"Noto Sans","titleFontWeight":"normal","titleFontSize":10.3,"titleX":228,"titleY":26}},"x2":{"datum":5.5},"y":{"field":"blot","type":"nominal","sort":null,"scale":{"domain":["head","MPO","β-Actin"],"paddingInner":0.2,"paddingOuter":0.1},"axis":{"title":null,"domain":false,"ticks":false,"labelFont":"Noto Sans","labelFontWeight":"normal","labelFontSize":10.5,"labelPadding":5,"labelExpr":"datum.label=='head'?'':datum.label","offset":-115}},"color":{"field":"bg","type":"quantitative","scale":{"domain":[0,1],"range":["#ffffff","#000000"]},"legend":null}}},
{"data":{"name":"Mbands"},"mark":{"type":"point","filled":true,"color":"#000","shape":"M-1,0 Q-1,-.3 -.8,-.3 L.8,-.3 Q1,-.3 1,0 Q1,.3 .8,.3 L-.8,.3 Q-1,.3 -1,0Z"},"encoding":{"x":{"field":"lane","type":"quantitative"},"y":{"field":"blot","type":"nominal","sort":null},"size":{"field":"spread","type":"quantitative","scale":{"type":"pow","exponent":2,"domain":[0,1],"range":[0,1100]},"legend":null},"opacity":{"field":"level","type":"quantitative","scale":{"domain":[0,1],"range":[0,0.25]},"legend":null}}},
{"data":{"name":"Mbands"},"mark":{"type":"point","filled":true,"color":"#000","shape":"M-1,0 Q-1,-.12 -.8,-.12 L.8,-.12 Q1,-.12 1,0 Q1,.12 .8,.12 L-.8,.12 Q-1,.12 -1,0Z"},"encoding":{"x":{"field":"lane","type":"quantitative"},"y":{"field":"blot","type":"nominal","sort":null},"size":{"field":"spread","type":"quantitative","scale":{"type":"pow","exponent":2,"domain":[0,1],"range":[0,1100]},"legend":null},"opacity":{"field":"level","type":"quantitative","scale":{"domain":[0,1],"range":[0,1]},"legend":null}}},
{"data":{"name":"Mrows"},"mark":{"type":"text","font":"Noto Sans","fontSize":9.5,"color":"#222","lineHeight":13,"baseline":"middle"},"encoding":{"x":{"datum":5.95,"type":"quantitative"},"y":{"field":"blot","type":"nominal","sort":null},"text":{"field":"mw"}}},
{"data":{"values":[{"line":1}]},"mark":{"type":"rule","strokeWidth":0.8,"color":"#333","yOffset":28.5},"encoding":{"x":{"datum":2.3,"type":"quantitative"},"x2":{"datum":5.44},"y":{"datum":"β-Actin"}}}
]},
{"width":166,"height":184,"title":{"text":"N","dx":-28,"offset":-9.5,"fontSize":23},
"resolve":{"scale":{"opacity":"independent"}},
"layer":[
{"data":{"name":"Nrows"},"transform":[{"filter":"datum.blot!='head'"}],"mark":{"type":"rect","stroke":"#000","strokeWidth":1.6},"encoding":{"x":{"datum":0.5,"type":"quantitative","scale":{"domain":[0.5,5.5]},"axis":{"values":[1.1,2.05,2.9,3.85,4.85],"labelExpr":"datum.value<1.5?'NC':datum.value<2.5?'LPS':datum.value<3.5?'0.3':datum.value<4.5?'1':'3'","domain":false,"ticks":false,"labelAngle":0,"labelFont":"Noto Sans","labelFontWeight":"normal","labelFontStyle":"normal","labelFontSize":10,"labelPadding":1,"title":"LPS + Nimbolide (mg/kg)","titleFont":"Noto Sans","titleFontWeight":"normal","titleFontSize":10.3,"titleX":110.7,"titleY":24}},"x2":{"datum":5.5},"y":{"field":"blot","type":"nominal","sort":null,"scale":{"domain":["head","iNOS","Nitrotyrosine","Nrf-2","HO-1","SOD-1","β-Actin"],"paddingInner":0.2,"paddingOuter":0.1},"axis":{"title":null,"domain":false,"ticks":false,"labelFont":"Noto Sans","labelFontWeight":"normal","labelFontSize":10.5,"labelPadding":5,"labelExpr":"datum.label=='head'?'':datum.label"}},"color":{"field":"bg","type":"quantitative","scale":{"domain":[0,1],"range":["#ffffff","#000000"]},"legend":null}}},
{"data":{"name":"Nbands"},"mark":{"type":"point","filled":true,"color":"#000","shape":"M-1,0 Q-1,-.3 -.8,-.3 L.8,-.3 Q1,-.3 1,0 Q1,.3 .8,.3 L-.8,.3 Q-1,.3 -1,0Z"},"encoding":{"x":{"field":"lane","type":"quantitative"},"y":{"field":"blot","type":"nominal","sort":null},"size":{"field":"spread","type":"quantitative","scale":{"type":"pow","exponent":2,"domain":[0,1],"range":[0,1100]},"legend":null},"opacity":{"field":"level","type":"quantitative","scale":{"domain":[0,1],"range":[0,0.25]},"legend":null}}},
{"data":{"name":"Nbands"},"mark":{"type":"point","filled":true,"color":"#000","shape":"M-1,0 Q-1,-.12 -.8,-.12 L.8,-.12 Q1,-.12 1,0 Q1,.12 .8,.12 L-.8,.12 Q-1,.12 -1,0Z"},"encoding":{"x":{"field":"lane","type":"quantitative"},"y":{"field":"blot","type":"nominal","sort":null},"size":{"field":"spread","type":"quantitative","scale":{"type":"pow","exponent":2,"domain":[0,1],"range":[0,1100]},"legend":null},"opacity":{"field":"level","type":"quantitative","scale":{"domain":[0,1],"range":[0,1]},"legend":null}}},
{"data":{"name":"Nrows"},"mark":{"type":"text","font":"Noto Sans","fontSize":9.5,"color":"#222","lineHeight":13,"baseline":"middle"},"encoding":{"x":{"datum":5.95,"type":"quantitative"},"y":{"field":"blot","type":"nominal","sort":null},"text":{"field":"mw"}}},
{"data":{"values":[{"line":1}]},"mark":{"type":"rule","strokeWidth":0.8,"color":"#333","yOffset":26},"encoding":{"x":{"datum":2.49,"type":"quantitative"},"x2":{"datum":5.35},"y":{"datum":"β-Actin"}}}
]}
],"spacing":135,"bounds":"flush"}
]}
